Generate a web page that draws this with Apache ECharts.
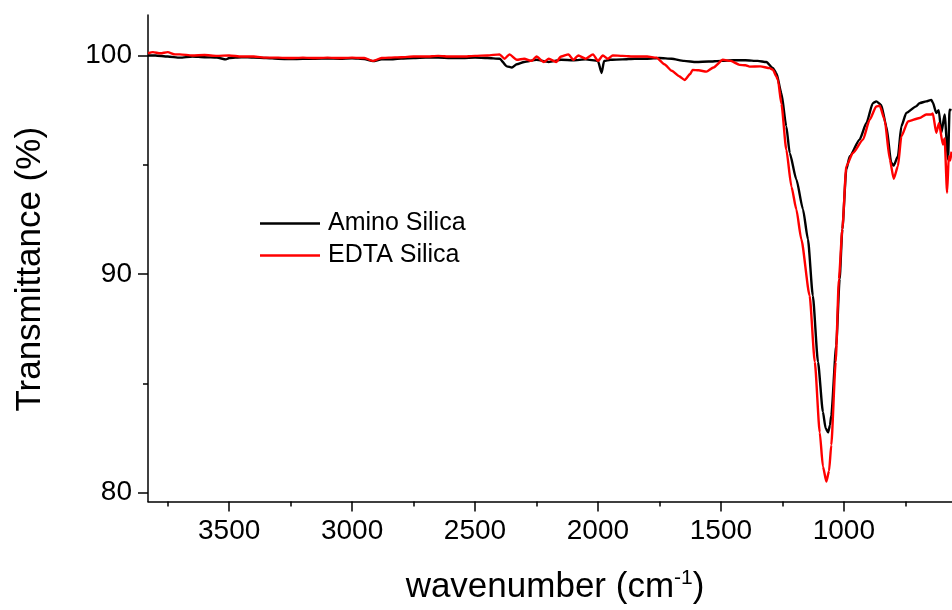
<!DOCTYPE html>
<html>
<head>
<meta charset="utf-8">
<title>FTIR</title>
<script src="https://cdn.jsdelivr.net/npm/echarts@6/dist/echarts.min.js"></script>
<style>
  html, body { margin: 0; padding: 0; background: #fff; }
  #main { width: 952px; height: 610px; }
</style>
</head>
<body>
<div id="main"></div>
<script>
'use strict';

// Amino Silica (black)
var aminoWave = [3830, 3800, 3750, 3700, 3650, 3600, 3550, 3513, 3500, 3450, 3400, 3350, 3300, 3250, 3200,
  3150, 3100, 3050, 3000, 2950, 2915, 2880, 2850, 2800, 2750, 2700, 2650, 2600, 2550, 2500, 2450, 2400,
  2370, 2350, 2330, 2300, 2250, 2200, 2150, 2100, 2050, 2000, 1985, 1975, 1950, 1900, 1850, 1800, 1750,
  1700, 1650, 1600, 1550, 1500, 1450, 1400, 1350, 1315, 1289, 1274, 1254, 1234, 1220, 1193, 1166, 1146,
  1126, 1105, 1085, 1074, 1064, 1056, 1051, 1031, 1017, 1006, 990, 976, 936, 908, 882, 868, 848, 827,
  807, 797, 780, 766, 746, 706, 692, 665, 644, 638, 624, 614, 603, 590, 576, 570, 562];
var aminoValue = [100.0, 100.0, 99.95, 99.9, 99.95, 99.92, 99.9, 99.82, 99.88, 99.92, 99.9, 99.88, 99.85, 99.83, 99.85,
  99.85, 99.86, 99.85, 99.87, 99.84, 99.74, 99.82, 99.82, 99.86, 99.88, 99.9, 99.9, 99.88, 99.88, 99.9, 99.88, 99.85,
  99.5, 99.45, 99.6, 99.7, 99.8, 99.7, 99.8, 99.78, 99.82, 99.75, 99.2, 99.75, 99.8, 99.82, 99.85, 99.85, 99.88,
  99.85, 99.75, 99.7, 99.72, 99.75, 99.78, 99.78, 99.75, 99.7, 99.43, 99.19, 98.28, 96.76, 95.54, 94.33, 92.96, 91.6,
  89.01, 85.98, 83.7, 82.95, 82.76, 83.1, 83.54, 86.73, 89.77, 92.05, 94.78, 95.39, 96.15, 96.91, 97.82, 97.9, 97.74, 96.76,
  95.09, 94.96, 95.39, 96.76, 97.37, 97.67, 97.82, 97.9, 97.97, 97.85, 97.37, 97.5, 96.46, 97.3, 95.24, 97.52, 97.5];

// EDTA Silica (red)
var edtaWave = [3830, 3810, 3780, 3750, 3720, 3700, 3650, 3600, 3550, 3500, 3450, 3400, 3350, 3300, 3250,
  3200, 3150, 3100, 3050, 3000, 2950, 2915, 2880, 2850, 2800, 2750, 2700, 2650, 2600, 2550, 2500, 2450,
  2400, 2380, 2360, 2330, 2300, 2270, 2250, 2220, 2200, 2170, 2150, 2120, 2100, 2080, 2050, 2020, 2000,
  1980, 1960, 1940, 1900, 1850, 1800, 1762, 1730, 1700, 1670, 1647, 1625, 1615, 1590, 1559, 1530, 1492,
  1460, 1424, 1400, 1383, 1340, 1301, 1288, 1274, 1268, 1254, 1234, 1213, 1193, 1173, 1139, 1118, 1098,
  1085, 1071, 1060, 1051, 1033, 1020, 1006, 990, 963, 922, 895, 868, 854, 834, 813, 797, 780, 766, 739,
  692, 665, 644, 638, 624, 613, 597, 590, 580, 573, 567, 562];
var edtaValue = [100.1, 100.15, 100.1, 100.15, 100.05, 100.05, 100.0, 100.02, 99.98, 100.0, 99.95, 99.95, 99.9, 99.9, 99.88,
  99.9, 99.88, 99.9, 99.88, 99.9, 99.88, 99.75, 99.88, 99.9, 99.92, 99.95, 99.95, 99.98, 99.95, 99.95, 99.98, 100.0,
  100.05, 99.85, 100.05, 99.8, 99.85, 99.75, 99.95, 99.7, 99.85, 99.7, 99.95, 100.05, 99.8, 100.0, 99.85, 100.05, 99.75,
  100.0, 99.85, 100.0, 99.98, 99.95, 99.95, 99.9, 99.6, 99.3, 99.05, 98.88, 99.15, 99.34, 99.32, 99.26, 99.45, 99.8,
  99.75, 99.57, 99.55, 99.49, 99.5, 99.42, 99.34, 99.03, 98.88, 97.8, 95.7, 94.0, 92.96, 91.6, 89.01, 85.98, 82.76,
  81.2, 80.51, 81.0, 82.18, 85.98, 89.77, 92.05, 94.93, 95.54, 96.15, 97.06, 97.67, 97.7, 97.06, 95.24, 94.36, 94.93, 96.3, 96.98,
  97.14, 97.3, 97.3, 97.35, 96.46, 96.9, 95.92, 96.2, 93.72, 95.39, 95.2, 95.6];

var xMajor = [1000, 1500, 2000, 2500, 3000, 3500];
var xMinor = [750, 1250, 1750, 2250, 2750, 3250, 3750];
var yMajor = [80, 90, 100];
var yMinor = [85, 95];

function pairs(xs, ys) {
  var out = [];
  for (var i = 0; i < xs.length; i++) out.push([xs[i], ys[i]]);
  return out;
}

var font = '"Liberation Sans", Arial, sans-serif';
var axisLine = { show: true, onZero: false, lineStyle: { color: '#000', width: 1.5 } };
var plain = function (v) { return String(v); };

var myChart = echarts.init(document.getElementById('main'));
myChart.setOption({
  animation: false,
  backgroundColor: '#fff',
  grid: { left: 148, right: 0, top: 15, bottom: 107 },
  legend: {
    orient: 'vertical',
    left: 260,
    top: 211,
    padding: 0,
    icon: 'rect',
    itemWidth: 60,
    itemHeight: 2.4,
    itemGap: 7,
    textStyle: { fontFamily: font, fontSize: 25, color: '#000', lineHeight: 24, padding: [0, 0, 0, 3] },
    data: ['Amino Silica', 'EDTA Silica']
  },
  xAxis: [{
    type: 'value',
    position: 'bottom',
    inverse: true,
    min: 560,
    max: 3830,
    name: '{t|wavenumber (cm}{s|-1}{t|)}',
    nameLocation: 'middle',
    nameGap: 66,
    nameTextStyle: {
      padding: [0, 0, 0, 10],
      rich: {
        t: { fontFamily: font, fontSize: 35, color: '#000', lineHeight: 40 },
        s: { fontFamily: font, fontSize: 21, color: '#000', lineHeight: 40, verticalAlign: 'top', padding: [0, 0, 14, 0] }
      }
    },
    axisLine: axisLine,
    axisTick: { show: true, customValues: xMajor, length: 10, lineStyle: { color: '#000', width: 1.5 } },
    axisLabel: { customValues: xMajor, formatter: plain, fontFamily: font, fontSize: 28, color: '#000', margin: 16 },
    splitLine: { show: false }
  }, {
    type: 'value',
    position: 'bottom',
    offset: 0,
    inverse: true,
    min: 560,
    max: 3830,
    axisLine: { show: false, onZero: false },
    axisTick: { show: true, customValues: xMinor, length: 5, lineStyle: { color: '#000', width: 1.5 } },
    axisLabel: { show: false },
    splitLine: { show: false }
  }],
  yAxis: [{
    type: 'value',
    min: 79.6,
    max: 101.85,
    name: 'Transmittance (%)',
    nameLocation: 'middle',
    nameGap: 100,
    nameTextStyle: { fontFamily: font, fontSize: 35, color: '#000', padding: [0, 22, 0, 0] },
    axisLine: axisLine,
    axisTick: { show: true, customValues: yMajor, length: 10, lineStyle: { color: '#000', width: 1.5 } },
    axisLabel: { customValues: yMajor, formatter: plain, fontFamily: font, fontSize: 28, color: '#000', margin: 16 },
    splitLine: { show: false }
  }, {
    type: 'value',
    min: 79.6,
    max: 101.85,
    position: 'left',
    offset: 0,
    axisLine: { show: false, onZero: false },
    axisTick: { show: true, customValues: yMinor, length: 5, lineStyle: { color: '#000', width: 1.5 } },
    axisLabel: { show: false },
    splitLine: { show: false }
  }],
  series: [{
    name: 'Amino Silica',
    type: 'line',
    symbol: 'none',
    smooth: 0.2,
    smoothMonotone: 'x',
    color: '#000',
    lineStyle: { color: '#000', width: 2.4 },
    data: pairs(aminoWave, aminoValue)
  }, {
    name: 'EDTA Silica',
    type: 'line',
    symbol: 'none',
    smooth: 0.2,
    smoothMonotone: 'x',
    color: '#ff0000',
    lineStyle: { color: '#ff0000', width: 2.4 },
    data: pairs(edtaWave, edtaValue)
  }]
});
</script>
</body>
</html>
